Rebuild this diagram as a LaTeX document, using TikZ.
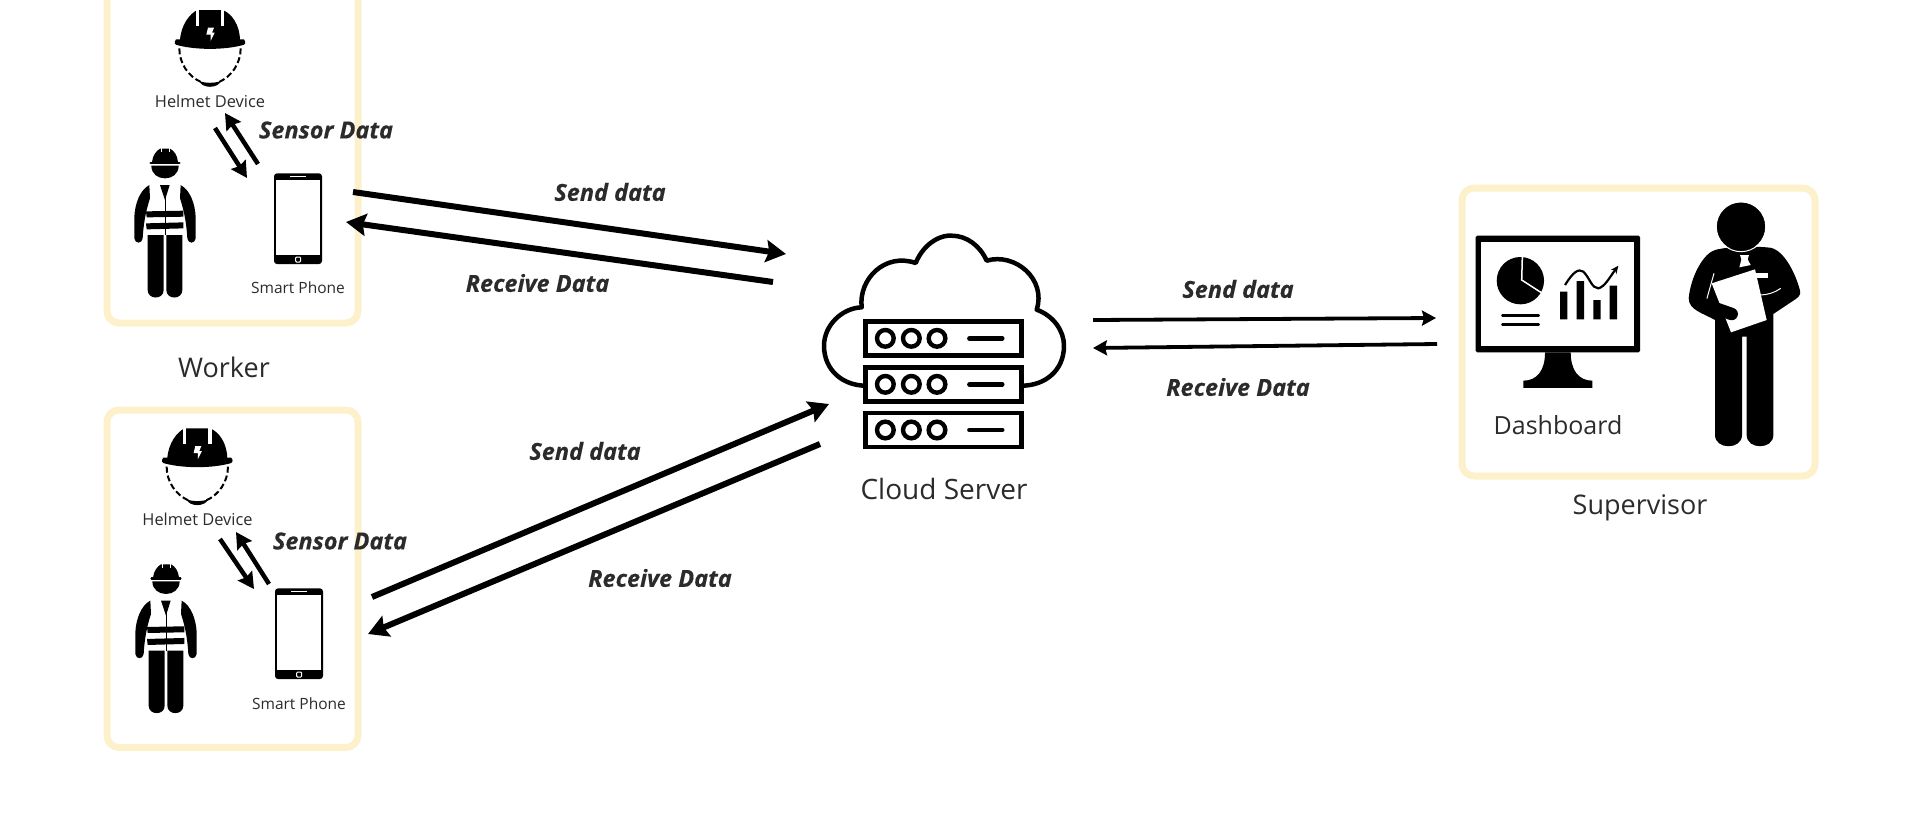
\documentclass[tikz,border=0pt]{standalone}
\usepackage{fontspec}
\setmainfont{Open Sans}
\usetikzlibrary{positioning,arrows.meta,calc}
\definecolor{mBoxYellow}{HTML}{FDF1CB}
\definecolor{mInk}{HTML}{000000}
\definecolor{mText}{HTML}{2B2B2B}
\tikzset{
  zoomunits/.style={x=0.3333pt,y=-0.3333pt},
  groupbox/.style={draw=mBoxYellow, line width=7pt, rounded corners=12pt},
  smalllabel/.style={text=mText, inner sep=0pt, font=\fontsize{15.5}{18}\selectfont},
  namelabel/.style={text=mText, inner sep=0pt, font=\fontsize{27}{32}\selectfont},
  flowlabel/.style={text=mText, inner sep=0pt, font=\fontsize{23.5}{28}\selectfont\bfseries\itshape\addfontfeature{FakeBold=0.3}},
  bigflow/.style={draw=mInk, line width=6pt, -{Stealth[length=20pt,width=22pt,inset=3pt]}},
  thinflow/.style={draw=mInk, line width=3.8pt, -{Stealth[length=14pt,width=15pt,inset=2pt]}},
  shortflow/.style={draw=mInk, line width=4.5pt, -{Stealth[length=16pt,width=17pt,inset=2pt]}},
  helmetfig/.pic={
    \begin{scope}[zoomunits, shift={(-360,-125)}]
    \fill[mInk] (270,122) .. controls (272,75) and (300,40) .. (322,30) -- (398,30) .. controls (425,40) and (450,75) .. (450,122) -- cycle;
    \fill[mInk] (258,118) -- (462,118) .. controls (470,128) and (465,135) .. (455,136) .. controls (400,150) and (320,150) .. (265,136) .. controls (255,135) and (250,128) .. (258,118) -- cycle;
    \draw[white, line width=3.3pt] (322,26) -- (322,78) (398,26) -- (398,78);
    \fill[white] (354,83) -- (372,83) -- (366,98) -- (374,98) -- (362,122) -- (362,104) -- (349,104) -- cycle;
    \draw[mInk, line width=2pt, dash pattern=on 6pt off 3pt] (268,145) .. controls (268,190) and (295,230) .. (335,247);
    \draw[mInk, line width=2pt, dash pattern=on 6pt off 3pt] (452,145) .. controls (452,190) and (425,230) .. (385,247);
    \fill[mInk] (328,243) .. controls (345,250) and (375,250) .. (392,243) .. controls (385,266) and (335,266) .. (328,243) -- cycle;
    \end{scope}
  },
  workerfig/.pic={
    \begin{scope}[zoomunits, shift={(-225,-488)}]
    \fill[mInk] (186,486) .. controls (188,465) and (200,452) .. (210,446) -- (240,446) .. controls (252,452) and (262,465) .. (264,486) -- cycle;
    \draw[white, line width=1pt] (213,441) -- (213,456) (237,441) -- (237,456);
    \draw[mInk, line width=2.6pt, line cap=round] (182,489) -- (268,489);
    \fill[mInk] (184,497) .. controls (184,522) and (204,535) .. (225,535) .. controls (246,535) and (266,522) .. (266,497) -- cycle;
    \foreach \side in {1,-1}{
      \begin{scope}[xshift=225*0.3333pt, xscale=\side, xshift=-225*0.3333pt]
      \fill[mInk] (178,555) .. controls (150,570) and (135,610) .. (133,650) -- (133,715) .. controls (135,732) and (156,732) .. (158,715) .. controls (160,680) and (165,640) .. (180,595) -- cycle;
      \fill[mInk] (173,705) -- (221,705) -- (221,870) .. controls (221,900) and (173,900) .. (173,870) -- cycle;
      \end{scope}
    }
    \fill[mInk] (210,555) -- (239,555) -- (225,600) -- cycle;
    \draw[mInk, line width=0.7pt] (225,590) -- (225,705);
    \fill[mInk] (168,634) -- (280,632) -- (280,650) -- (170,652) -- cycle;
    \fill[mInk] (168,670) -- (280,667) -- (280,685) -- (170,688) -- cycle;
    \end{scope}
  },
  phonefig/.pic={
    \begin{scope}[zoomunits, shift={(-624,-656)}]
    \fill[mInk, rounded corners=3pt] (552,520) rectangle (696,792);
    \fill[white] (558,540) rectangle (690,765);
    \draw[white, line width=1pt] (600,529) -- (648,529);
    \draw[white, line width=1pt, rounded corners=1pt] (617,771) rectangle (632,786);
    \end{scope}
  },
  cloudfig/.pic={
    \begin{scope}[zoomunits, shift={(-432,-400)}]
    \draw[mInk, line width=4.5pt, line join=round] (197,525) .. controls (130,525) and (72,480) .. (72,405) .. controls (72,345) and (125,292) .. (185,290) .. controls (175,205) and (255,125) .. (347,157) .. controls (375,90) and (430,72) .. (455,75) .. controls (500,75) and (540,105) .. (560,150) .. controls (645,125) and (740,205) .. (710,297) .. controls (760,315) and (792,360) .. (792,405) .. controls (792,480) and (735,525) .. (665,525);
    \foreach \ytop in {332,470,607}{
      \draw[mInk, fill=white, line width=4.4pt] (197,\ytop) rectangle (665,\ytop+102);
      \foreach \xc in {256,334,411}{
        \draw[mInk, line width=4.4pt] (\xc,\ytop+51) circle (25);
      }
      \draw[mInk, line width=4.4pt, line cap=round] (508,\ytop+51) -- (607,\ytop+51);
    }
    \end{scope}
  },
  monitorfig/.pic={
    \begin{scope}[zoomunits, shift={(-323,-372)}]
    \fill[mInk, rounded corners=1.5pt] (77,197) rectangle (570,547);
    \fill[white] (94,216) rectangle (552,527);
    \fill[mInk] (285,547) -- (362,547) .. controls (362,600) and (385,632) .. (427,632) -- (427,654) -- (220,654) -- (220,632) .. controls (262,632) and (285,600) .. (285,547) -- cycle;
    \fill[mInk] (211,332) circle (71);
    \draw[white, line width=1.5pt] (217,255) -- (215,330) -- (280,372);
    \draw[mInk, line width=2.6pt, line cap=round] (157,436) -- (266,436) (157,463) -- (266,463);
    \fill[mInk] (330,365) rectangle (352,448) (380,333) rectangle (402,448) (430,390) rectangle (452,448) (479,347) rectangle (501,448);
    \draw[mInk, line width=2.2pt, -{Stealth[length=8pt,width=7pt]}] (345,345) .. controls (370,305) and (385,295) .. (400,305) .. controls (420,325) and (425,355) .. (445,355) .. controls (465,350) and (480,320) .. (505,287);
    \end{scope}
  },
  bossfig/.pic={
    \begin{scope}[zoomunits, shift={(-873,-465)}]
    \fill[mInk] (795,240) .. controls (840,228) and (915,228) .. (960,233) .. controls (1005,240) and (1040,320) .. (1050,362) .. controls (1054,378) and (1040,385) .. (1030,392) -- (970,432) -- (970,795) .. controls (970,840) and (890,840) .. (890,795) -- (890,500) -- (876,500) -- (876,795) .. controls (876,840) and (795,840) .. (795,795) -- (795,450) .. controls (760,430) and (716,420) .. (716,385) .. controls (722,320) and (760,250) .. (795,240) -- cycle;
    \fill[white] (870,255) -- (897,255) -- (893,268) -- (902,285) -- (868,292) -- (874,268) -- cycle;
    \fill[white] (915,308) rectangle (955,325);
    \draw[white, line width=1pt] (930,375) .. controls (950,375) and (975,368) .. (992,355);
    \draw[white, line width=1pt] (792,310) -- (770,388);
    \fill[white] (785,340) -- (915,298) -- (950,450) -- (843,487) -- cycle;
    \draw[mInk, line width=12.5pt, line cap=round] (745,397) -- (845,432);
    \draw[mInk, fill=mInk] (873,170) circle (72);
    \draw[white, line width=1pt] (873,170) circle (75);
    \end{scope}
  }
}
\begin{document}
\begin{tikzpicture}[x=1pt, y=-1pt]
\clip (0,0) rectangle (1920,825);
\fill[white] (0,0) rectangle (1920,825);
% group boxes
\draw[groupbox] (107,-30) rectangle (358,323);
\draw[groupbox] (107,410) rectangle (358,747.5);
\draw[groupbox] (1462,188) rectangle (1815,476);
% top worker
\pic (helmetA) at (210,41.7) {helmetfig};
\pic (workerA) at (165,162.7) {workerfig};
\pic (phoneA) at (298,218.7) {phonefig};
\node[smalllabel, font=\fontsize{16.4}{18}\selectfont] (helmetlabelA) at (210,101) {Helmet Device};
\node[smalllabel] (phonelabelA) at (298,288) {Smart Phone};
\node[flowlabel] (sensorA) at (326,130) {Sensor Data};
\node[namelabel] (workerlabel) at (224,367) {Worker};
% bottom worker
\pic (helmetB) at (197.3,460) {helmetfig};
\pic (workerB) at (166,578.3) {workerfig};
\pic (phoneB) at (299,633.7) {phonefig};
\node[smalllabel, font=\fontsize{16.4}{18}\selectfont] (helmetlabelB) at (197.5,519) {Helmet Device};
\node[smalllabel] (phonelabelB) at (299,704) {Smart Phone};
\node[flowlabel] (sensorB) at (340,541) {Sensor Data};
% server and supervisor
\pic (cloud) at (944,344) {cloudfig};
\node[namelabel, font=\fontsize{28}{32}\selectfont] (cloudlabel) at (944,489) {Cloud Server};
\pic (monitor) at (1557.7,294) {monitorfig};
\pic (boss) at (1741,325) {bossfig};
\node[namelabel, font=\fontsize{25}{30}\selectfont] (dashlabel) at (1558,425) {Dashboard};
\node[namelabel] (bosslabel) at (1640,508) {Supervisor};
% flow labels
\node[flowlabel] (sendA) at (610,192) {Send data};
\node[flowlabel] (recvA) at (537.5,283) {Receive Data};
\node[flowlabel] (sendB) at (585,451) {Send data};
\node[flowlabel] (recvB) at (660,578) {Receive Data};
\node[flowlabel] (sendC) at (1238,289) {Send data};
\node[flowlabel] (recvC) at (1238,387) {Receive Data};
% connector ends
\coordinate (phoneAout) at (353,192); \coordinate (cloudAin) at (786,254);
\coordinate (cloudAout) at (773,282); \coordinate (phoneAin) at (346,222);
\coordinate (phoneBout) at (372,597); \coordinate (cloudBin) at (829,404);
\coordinate (cloudBout) at (820,444); \coordinate (phoneBin) at (368,634);
\coordinate (cloudCout) at (1093,320); \coordinate (bossin) at (1436,318);
\coordinate (bossout) at (1437,344); \coordinate (cloudCin) at (1093,348);
\coordinate (helmetAout) at (215,128); \coordinate (phoneAtop) at (247,178);
\coordinate (phoneAup) at (258,164); \coordinate (helmetAin) at (225,113);
\coordinate (helmetBout) at (220,539); \coordinate (phoneBtop) at (254,589);
\coordinate (phoneBup) at (269,584); \coordinate (helmetBin) at (236,532);
% connectors
\draw[bigflow] (phoneAout) -- (cloudAin);
\draw[bigflow] (cloudAout) -- (phoneAin);
\draw[bigflow] (phoneBout) -- (cloudBin);
\draw[bigflow] (cloudBout) -- (phoneBin);
\draw[thinflow] (cloudCout) -- (bossin);
\draw[thinflow] (bossout) -- (cloudCin);
\draw[shortflow] (helmetAout) -- (phoneAtop);
\draw[shortflow] (phoneAup) -- (helmetAin);
\draw[shortflow] (helmetBout) -- (phoneBtop);
\draw[shortflow] (phoneBup) -- (helmetBin);
\end{tikzpicture}
\end{document}
